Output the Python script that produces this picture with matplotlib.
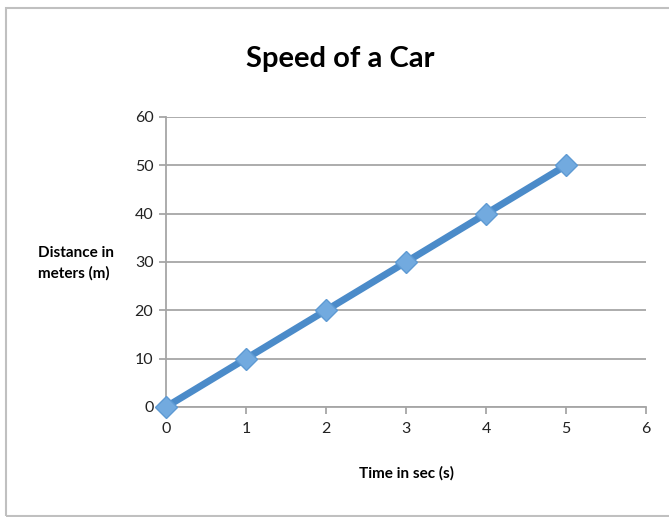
import matplotlib.pyplot as plt
from matplotlib.patches import Rectangle

# data
time_s = [0, 1, 2, 3, 4, 5]
distance_m = [0, 10, 20, 30, 40, 50]
x_ticks = [0, 1, 2, 3, 4, 5, 6]
y_ticks = [0, 10, 20, 30, 40, 50, 60]

plt.rcParams['font.family'] = ['Lato', 'DejaVu Sans']

fig = plt.figure(figsize=(6.69, 5.17), dpi=100)
ax = fig.add_axes([0.248, 0.2128, 0.718, 0.561])

ax.plot(time_s, distance_m, color="#4b8bc9", linewidth=5,
        marker="D", markersize=11, markerfacecolor="#72aadf",
        markeredgecolor="#5e9ad3", markeredgewidth=1, zorder=3, clip_on=False)

ax.set_xlim(0, 6)
ax.set_ylim(0, 60)
ax.set_xticks(x_ticks)
ax.set_yticks(y_ticks)
ax.yaxis.grid(True, color="#a6a6a6", linewidth=1.3)
ax.set_axisbelow(True)

for side in ["top", "right"]:
    ax.spines[side].set_visible(False)
ax.spines["left"].set_color("#a6a6a6")
ax.spines["bottom"].set_color("#a6a6a6")
ax.spines["left"].set_linewidth(1.3)
ax.spines["bottom"].set_linewidth(1.3)
ax.tick_params(axis="y", length=5, color="#a6a6a6", width=1.3, labelsize=11.5,
               pad=4, labelcolor="#222222")
ax.tick_params(axis="x", length=5, color="#a6a6a6", width=1.3, labelsize=11.5,
               pad=6, labelcolor="#222222")

fig.text(0.508, 0.885, "Speed of a Car", ha="center", va="center",
         fontsize=21, fontweight="bold")
fig.text(0.607, 0.085, "Time in sec (s)", ha="center", va="center",
         fontsize=11, fontweight="bold")
fig.text(0.057, 0.491, "Distance in\nmeters (m)", ha="left", va="center",
         fontsize=11, fontweight="bold", linespacing=1.5)

# outer chart frame
fig.patches.append(Rectangle((0.009, 0.002), 1.2, 0.983, transform=fig.transFigure,
                             fill=False, edgecolor="#c0c0c0", linewidth=1.5))

fig.savefig("out.png", dpi=100)
